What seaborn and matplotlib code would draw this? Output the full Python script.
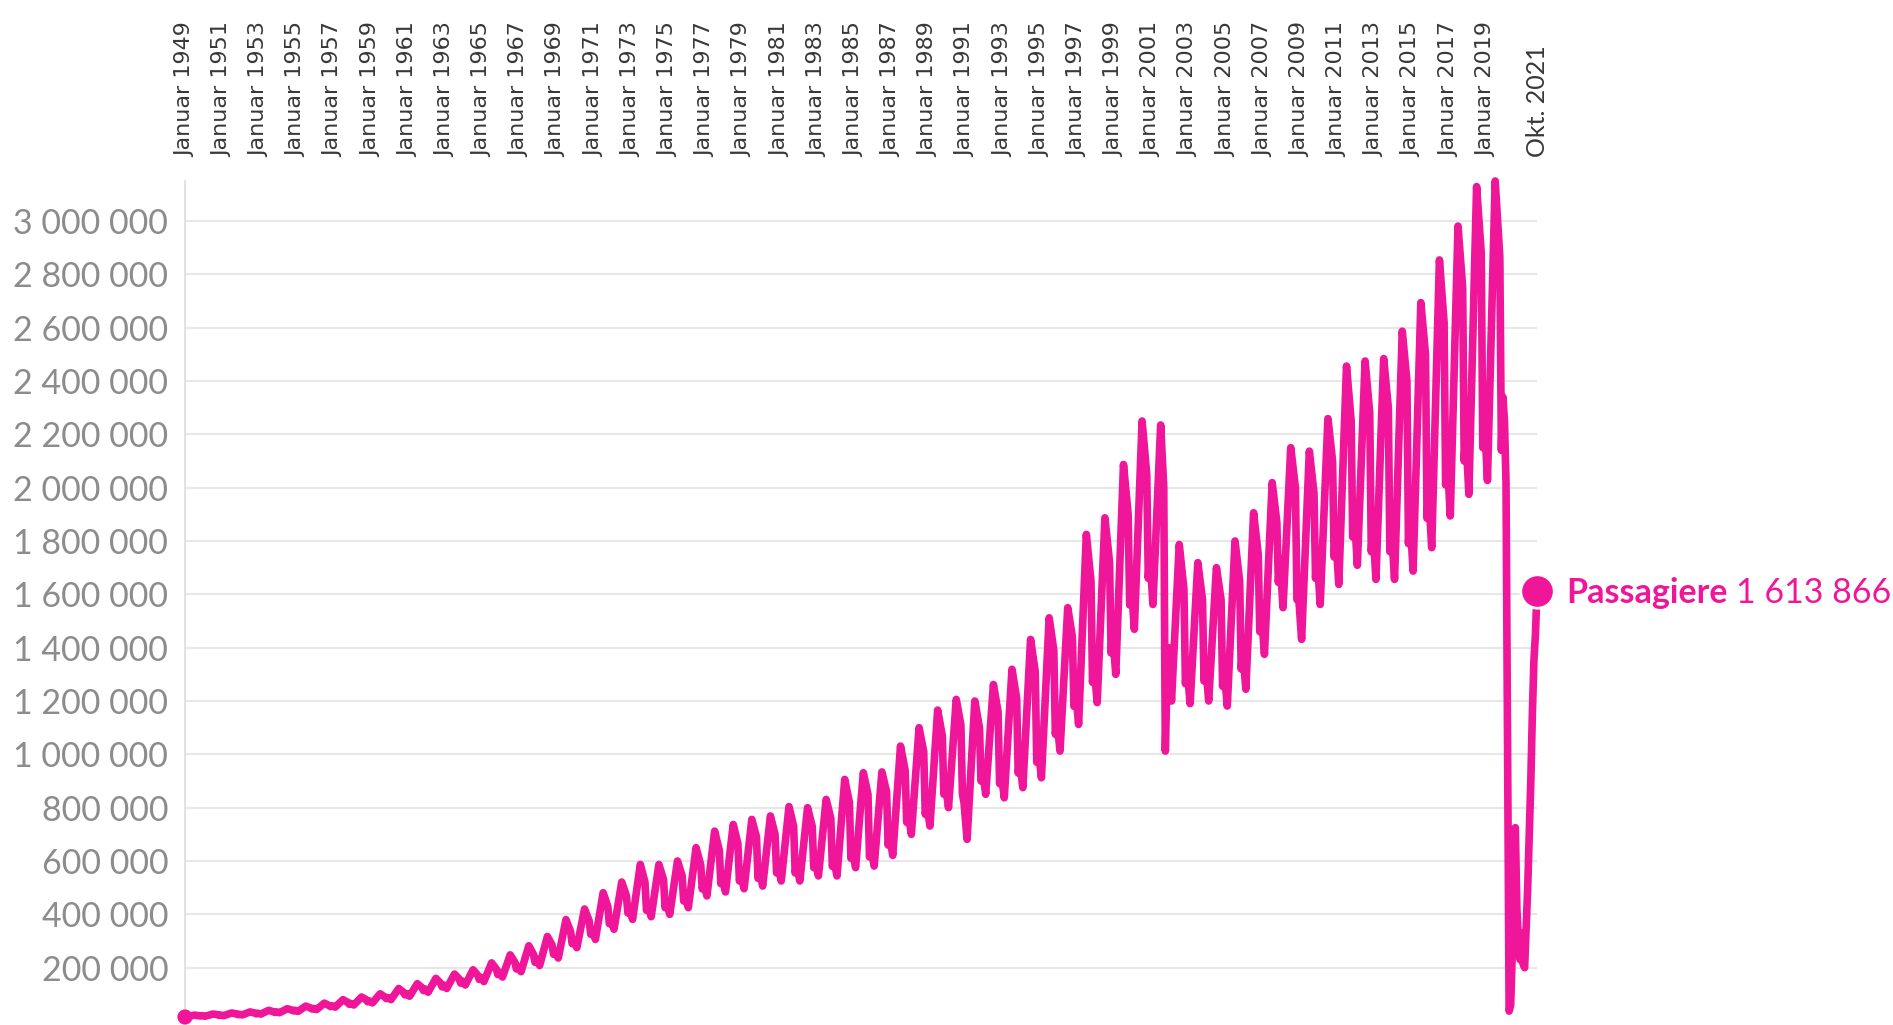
import numpy as np
import pandas as pd
import matplotlib
matplotlib.use("Agg")
import matplotlib.pyplot as plt
import seaborn as sns
from matplotlib.transforms import Bbox, TransformedBbox

# ---------------- data (passengers per month, thousands) ----------------
years = list(range(1949, 2020))
# February (winter low)
winter_low_k = [16, 18, 20, 23, 26, 31, 36, 43, 52, 60, 68,
                80, 93, 108, 122, 135, 148, 165, 185, 208, 236,
                275, 306, 344, 381, 391, 400, 425, 469, 484, 496,
                506, 525, 525, 544, 544, 575, 581, 621, 700, 731,
                800, 681, 850, 837, 875, 912, 1012, 1112, 1194, 1300,
                1469, 1562, 1200, 1190, 1200, 1181, 1244, 1375, 1550, 1431,
                1562, 1637, 1709, 1656, 1656, 1687, 1775, 1894, 1975, 2027]
# July (summer peak)
summer_peak_k = [22, 26, 30, 34, 40, 46, 56, 67, 80, 90, 102,
                 122, 140, 160, 176, 192, 218, 248, 282, 317, 380,
                 420, 481, 521, 587, 587, 600, 650, 712, 737, 756,
                 769, 804, 800, 831, 906, 931, 934, 1031, 1100, 1166,
                 1206, 1200, 1262, 1319, 1431, 1512, 1550, 1825, 1887, 2087,
                 2250, 2235, 1787, 1719, 1700, 1800, 1906, 2019, 2150, 2137,
                 2259, 2456, 2475, 2484, 2587, 2694, 2854, 2981, 3129, 3150]
# October (autumn shoulder)
autumn_value_k = [20, 24, 27, 30, 35, 41, 49, 58, 70, 80, 90,
                  108, 125, 142, 158, 172, 195, 220, 250, 285, 335,
                  375, 430, 470, 520, 530, 545, 585, 640, 665, 690,
                  700, 730, 730, 760, 820, 850, 860, 940, 1010, 1070,
                  1110, 1100, 1160, 1210, 1310, 1390, 1440, 1650, 1720, 1900,
                  2050, 1012, 1620, 1580, 1580, 1650, 1750, 1870, 2000, 1980,
                  2100, 2250, 2280, 2300, 2400, 2500, 2620, 2750, 2880, 2864]
# November
november_k = [19, 21, 24, 27, 32, 38, 45, 54, 63, 72, 84,
              98, 114, 128, 142, 156, 174, 195, 220, 250, 290,
              325, 365, 405, 415, 425, 450, 495, 515, 525, 535,
              555, 555, 575, 580, 610, 615, 660, 745, 775, 850,
              850, 900, 890, 930, 970, 1075, 1180, 1270, 1380, 1560,
              1660, 1250, 1265, 1275, 1255, 1320, 1460, 1645, 1580, 1660,
              1740, 1815, 1760, 1760, 1790, 1885, 2010, 2100, 2150, 2140]
# December
december_k = [20, 22, 25, 29, 34, 40, 47, 57, 66, 75, 88,
              103, 120, 135, 150, 164, 183, 205, 232, 262, 305,
              340, 380, 425, 435, 445, 470, 520, 540, 550, 565,
              585, 585, 605, 605, 640, 650, 695, 780, 815, 890,
              820, 945, 935, 975, 1020, 1130, 1245, 1335, 1455, 1645,
              1750, 1400, 1330, 1345, 1320, 1390, 1540, 1735, 1600, 1750,
              1830, 1910, 1855, 1855, 1890, 1985, 2120, 2210, 2270, 2340]

# single months read separately (start, Swissair grounding, pandemic)
extra_year = [1949, 2001,
              2020, 2020, 2020, 2020, 2020, 2020, 2020, 2020, 2020, 2020, 2020, 2020,
              2021, 2021, 2021, 2021, 2021, 2021, 2021, 2021, 2021, 2021]
extra_month = [1, 9,
               1, 2, 3, 4, 5, 6, 7, 8, 9, 10, 11, 12,
               1, 2, 3, 4, 5, 6, 7, 8, 9, 10]
extra_value = [15000, 2000000,
               2250000, 2015000, 1000000, 37000, 60000, 250000, 650000, 725000,
               420000, 300000, 230000, 330000,
               215000, 200000, 350000, 500000, 700000, 900000, 1150000, 1350000,
               1450000, 1613866]

tick_years = list(range(1949, 2020, 2))
last_label = "Okt. 2021"
series_name = "Passagiere"
y_ticks = list(range(200000, 3000001, 200000))

# ---------------- assemble ----------------
rows = []
for i, y in enumerate(years):
    base = (y - 1949) * 12
    rows.append((base + 1, winter_low_k[i] * 1000))
    rows.append((base + 6, summer_peak_k[i] * 1000))
    rows.append((base + 9, autumn_value_k[i] * 1000))
    rows.append((base + 10, november_k[i] * 1000))
    rows.append((base + 11, december_k[i] * 1000))
for y, m, v in zip(extra_year, extra_month, extra_value):
    rows.append(((y - 1949) * 12 + m - 1, v))
df = pd.DataFrame(rows, columns=["month", "value"])
df = df.drop_duplicates("month", keep="last").sort_values("month").reset_index(drop=True)

# ---------------- style ----------------
sns.set_style("white")
plt.rcParams["font.family"] = ["DejaVu Sans"]
PINK = "#F0169A"
W, H = 1893, 1025

fig = plt.figure(figsize=(W / 100, H / 100), dpi=100)
ax = fig.add_axes([185 / W, 1 - 1021 / H, (1537 - 185) / W, (1021 - 181) / H])

sns.lineplot(data=df, x="month", y="value", ax=ax, color=PINK, linewidth=5.5,
             estimator=None, sort=False, legend=False)
line = ax.lines[0]
line.set_solid_joinstyle("round")
line.set_solid_capstyle("round")
line.set_clip_on(False)
line.set_zorder(3)

first = df.iloc[[0]]
last = df.iloc[[-1]]
sns.scatterplot(data=first, x="month", y="value", ax=ax, color=PINK, s=120,
                edgecolor="none", zorder=4, clip_on=False, legend=False)
sns.scatterplot(data=last, x="month", y="value", ax=ax, color=PINK, s=580,
                edgecolor="white", linewidth=2, zorder=5, clip_on=False, legend=False)

x_last = int(last["month"].iloc[0])
v_last = int(last["value"].iloc[0])
ax.set_xlim(0, x_last)
ax.set_ylim(0, 3150000)

# grid + spines
ax.set_yticks(y_ticks)
ax.set_yticklabels([f"{v:,}".replace(",", " ") for v in y_ticks])
ax.yaxis.grid(True, color="#e7e7e7", linewidth=1.5)
ax.xaxis.grid(False)
ax.set_axisbelow(True)
for s in ["top", "right", "bottom"]:
    ax.spines[s].set_visible(False)
ax.spines["left"].set_color("#dcdcdc")
ax.spines["left"].set_linewidth(1.2)

ax.tick_params(axis="y", length=0, pad=12, labelsize=24.5, labelcolor="#8c8c8c")
for lab in ax.get_yticklabels():
    lab.set_fontfamily(["Lato", "DejaVu Sans"])

xt = [(y - 1949) * 12 for y in tick_years] + [x_last]
xl = [f"Januar {y}" for y in tick_years] + [last_label]
ax.xaxis.tick_top()
ax.set_xticks(xt)
ax.set_xticklabels(xl, rotation=90)
ax.tick_params(axis="x", length=0, pad=17, labelsize=16, labelcolor="#383838",
               top=True, labeltop=True, bottom=False, labelbottom=False)
ax.set_xlabel("")
ax.set_ylabel("")

clip = TransformedBbox(Bbox([[0, 0], [1, (H - 14) / H]]), fig.transFigure)
labels = ax.get_xticklabels()
for lab in labels:
    lab.set_clip_box(clip)
    lab.set_clip_on(True)
labels[-1].set_fontfamily(["Lato", "DejaVu Sans"])
labels[-1].set_fontsize(18)

# end label
t1 = ax.annotate(series_name, xy=(x_last, v_last), xytext=(29, -12),
                 textcoords="offset pixels", ha="left", va="baseline",
                 color=PINK, fontsize=24.5, fontweight="bold",
                 fontfamily=["Lato", "DejaVu Sans"], annotation_clip=False)
ax.annotate(f"{v_last:,}".replace(",", " "), xy=(1, 0), xycoords=t1,
            xytext=(8, 0), textcoords="offset pixels", ha="left", va="bottom",
            color=PINK, fontsize=24.5, fontfamily=["Lato", "DejaVu Sans"],
            annotation_clip=False)

fig.savefig("out.png", dpi=100)
